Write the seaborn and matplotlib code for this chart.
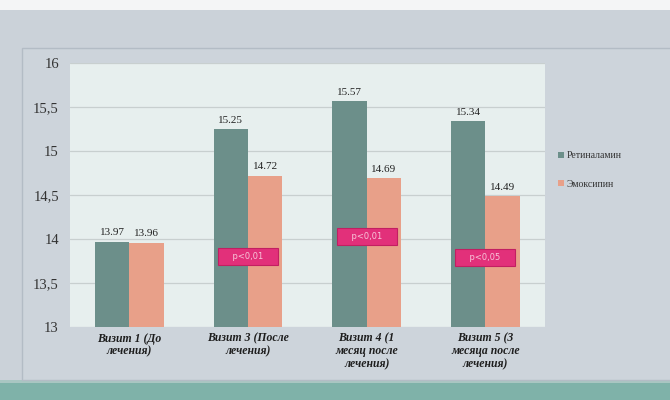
import matplotlib
matplotlib.use("Agg")
import matplotlib.pyplot as plt
import seaborn as sns
import pandas as pd
from matplotlib.patches import Rectangle

categories = ["Визит 1 (До\nлечения)", "Визит 3 (После\nлечения)",
              "Визит 4 (1\nмесяц после\nлечения)", "Визит 5 (3\nмесяца после\nлечения)"]
series_names = ["Ретиналамин", "Эмоксипин"]
retinalamin = [13.97, 15.25, 15.57, 15.34]
emoxipin = [13.96, 14.72, 14.69, 14.49]
p_labels = ["", "p<0,01", "p<0,01", "p<0,05"]
p_levels = [None, 13.8, 14.03, 13.79]
y_ticks = [13, 13.5, 14, 14.5, 15, 15.5, 16]
y_ticklabels = ["13", "13,5", "14", "14,5", "15", "15,5", "16"]

df = pd.DataFrame({
    "cat": categories * 2,
    "series": [series_names[0]] * 4 + [series_names[1]] * 4,
    "value": retinalamin + emoxipin,
})

sns.set_theme(style="white")
plt.rcParams["font.family"] = ["Liberation Serif", "DejaVu Serif"]

fig = plt.figure(figsize=(6.7, 4.0), dpi=100)
fig.patch.set_facecolor("#cbd2d9")
# top white strip and bottom teal band
fig.patches.append(Rectangle((0, 0.975), 1, 0.025, transform=fig.transFigure,
                             facecolor="#f4f5f6", edgecolor="none", zorder=-10))
fig.patches.append(Rectangle((0, 0), 1, 0.043, transform=fig.transFigure,
                             facecolor="#7fb2a9", edgecolor="none", zorder=-10))
fig.patches.append(Rectangle((0, 0.043), 1, 0.006, transform=fig.transFigure,
                             facecolor="#a9c6c2", edgecolor="none", zorder=-10))
# outer chart frame
fig.patches.append(Rectangle((0.033, 0.05), 1.0, 0.83, transform=fig.transFigure,
                             facecolor="#cdd4db", edgecolor="#b3bcc5", lw=1.0, zorder=-10))

ax = fig.add_axes([0.1045, 0.1825, 0.7085, 0.66])
ax.set_zorder(1)
ax.set_facecolor("#e7efee")

palette = {series_names[0]: "#6c8f8a", series_names[1]: "#e8a089"}
sns.barplot(data=df, x="cat", y="value", hue="series", palette=palette,
            width=0.58, ax=ax, saturation=1, legend=True, linewidth=0)

ax.set_ylim(13, 16)
ax.set_yticks(y_ticks)
ax.set_yticklabels(y_ticklabels, fontsize=10.5, color="#333333")
ax.yaxis.grid(True, color="#c8cfcf", lw=0.9)
ax.set_axisbelow(True)
for s in ax.spines.values():
    s.set_visible(False)
ax.tick_params(axis="both", length=0, pad=8)
ax.set_xlabel("")
ax.set_ylabel("")
ax.set_xticks(range(len(categories)))
ax.set_xticklabels(categories, fontsize=8.5, fontweight="bold", fontstyle="italic",
                   color="#1e1e1e", linespacing=1.1)
ax.tick_params(axis="x", pad=4)

# value labels
for cont in ax.containers:
    ax.bar_label(cont, labels=[f"{v:.2f}" for v in cont.datavalues],
                 fontsize=8, color="#222222", padding=3)

# p-value boxes
for i, (lab, lev) in enumerate(zip(p_labels, p_levels)):
    if lev is None:
        continue
    ax.text(i, lev, "    " + lab + "    ", ha="center", va="center", fontsize=6,
            color="#f8c6da",
            bbox=dict(boxstyle="square,pad=0.5", facecolor="#e2307a",
                      edgecolor="#c21f62", lw=0.8), zorder=5,
            family=["DejaVu Sans"])

leg = ax.legend(loc="center left", bbox_to_anchor=(1.01, 0.595), frameon=False,
                fontsize=7, handlelength=0.6, handleheight=0.6, handletextpad=0.3,
                labelspacing=2.0)
for t in leg.get_texts():
    t.set_color("#333333")

fig.savefig("out.png", dpi=100, facecolor=fig.get_facecolor())
